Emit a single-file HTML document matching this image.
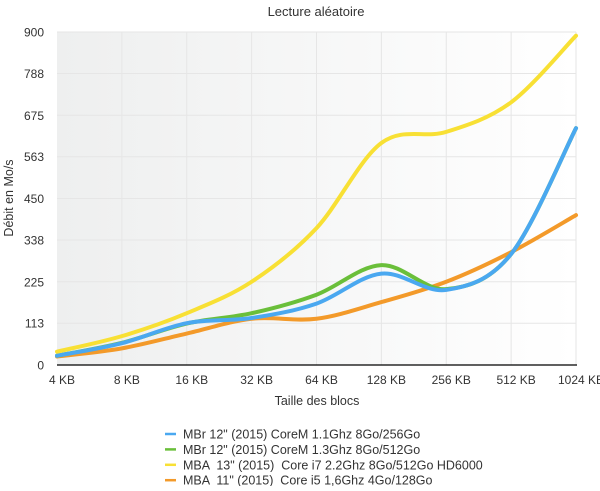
<!DOCTYPE html>
<html><head><meta charset="utf-8"><style>
body{margin:0;background:#fff;font-family:"Liberation Sans",sans-serif;}
svg text{font-family:"Liberation Sans",sans-serif;fill:#333;white-space:pre;}
</style></head><body>
<svg id="chart" width="600" height="486" xmlns="http://www.w3.org/2000/svg">
<defs><linearGradient id="bg" x1="0" x2="1" y1="0" y2="0"><stop offset="0" stop-color="#eeefef"/><stop offset="1" stop-color="#ffffff"/></linearGradient></defs>
<rect x="57" y="32" width="519" height="333" fill="url(#bg)"/>
<text x="316" y="16" text-anchor="middle" font-size="13">Lecture aléatoire</text>
<text x="317" y="405" text-anchor="middle" font-size="12.5">Taille des blocs</text>
<text transform="translate(13,198) rotate(-90)" text-anchor="middle" font-size="12.5">Débit en Mo/s</text>
<g id="grid"></g><g id="series"></g><g id="axes"></g><g id="legend"></g>
</svg>
<script>
const categories=["4 KB","8 KB","16 KB","32 KB","64 KB","128 KB","256 KB","512 KB","1024 KB"];
const yTicks=[0,113,225,338,450,563,675,788,900];
const seriesNames=['MBr 12" (2015) CoreM 1.1Ghz 8Go/256Go','MBr 12" (2015) CoreM 1.3Ghz 8Go/512Go','MBA  13" (2015)  Core i7 2.2Ghz 8Go/512Go HD6000','MBA  11" (2015)  Core i5 1,6Ghz 4Go/128Go'];
const seriesColors=["#4aa8f0","#6abf3a","#f8e034","#f39a2a"];
const blueValues=[25,59,113,127,166,247,203,300,640];
const greenValues=[25,60,112,140,190,270,205,300,640];
const yellowValues=[36,78,140,225,370,600,630,710,890];
const orangeValues=[23,45,85,125,125,170,225,305,405];
const drawOrder=[3,1,0,2];
const allValues=[blueValues,greenValues,yellowValues,orangeValues];
const X0=57,X1=576,Y0=365,Y1=32,YMAX=900;
const xs=i=>X0+i*(X1-X0)/(categories.length-1);
const ys=v=>Y0-v/YMAX*(Y0-Y1);
const NS="http://www.w3.org/2000/svg";
function mk(tag,parent,attrs){const e=document.createElementNS(NS,tag);for(const k in attrs)e.setAttribute(k,attrs[k]);parent.appendChild(e);return e;}
const grid=document.getElementById('grid'),axes=document.getElementById('axes'),ser=document.getElementById('series'),leg=document.getElementById('legend');
yTicks.forEach(t=>{
 if(t>0){const l=mk('line',grid,{x1:X0,x2:X1,y1:ys(t),y2:ys(t),stroke:'#e6e6e6','stroke-width':1});
 
 }
 const tx=mk('text',axes,{x:44,y:ys(t)+4.5,'text-anchor':'end','font-size':12});tx.textContent=t;
 
 
});
categories.forEach((c,i)=>{
 if(i>0){const l=mk('line',grid,{x1:xs(i),x2:xs(i),y1:Y1,y2:Y0,stroke:'#e6e6e6','stroke-width':1});
 
 }
 const tx=mk('text',axes,{x:xs(i)+5,y:384,'text-anchor':'middle','font-size':12});tx.textContent=c;
 
 
});
const ax=mk('line',axes,{x1:X0,x2:X1+1,y1:Y0,y2:Y0,stroke:'#000','stroke-width':1.3});


function pathFor(vals){
 const p=vals.map((v,i)=>[xs(i),ys(v)]);let d='M'+p[0][0]+','+p[0][1];
 for(let i=0;i<p.length-1;i++){const a=p[i-1]||p[i],b=p[i],c=p[i+1],e=p[i+2]||c;
  d+=' C'+(b[0]+(c[0]-a[0])/6)+','+(b[1]+(c[1]-a[1])/6)+' '+(c[0]-(e[0]-b[0])/6)+','+(c[1]-(e[1]-b[1])/6)+' '+c[0]+','+c[1];}
 return d;}
drawOrder.forEach(s=>{
 const p=mk('path',ser,{d:pathFor(allValues[s]),fill:'none',stroke:seriesColors[s],'stroke-width':4,'stroke-linecap':'round'});
 
 
});
seriesNames.forEach((n,i)=>{
 const y=434+i*15.4;
 const sw=mk('line',leg,{x1:165,x2:176,y1:y,y2:y,stroke:seriesColors[i],'stroke-width':2.5});
 
 
 const t=mk('text',leg,{x:183,y:y+4.5,'font-size':12.5});t.textContent=n;
 
 
});
</script>
</body></html>
